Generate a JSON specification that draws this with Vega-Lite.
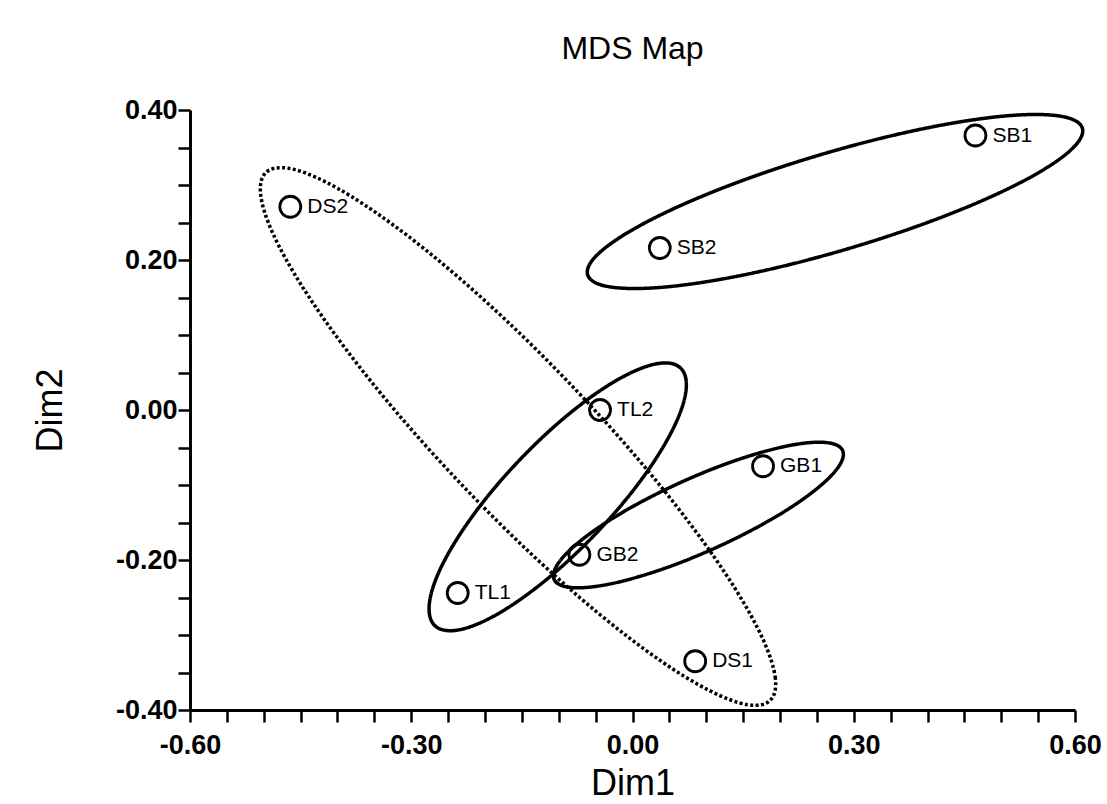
{
  "$schema": "https://vega.github.io/schema/vega-lite/v6.json",
  "width": 885,
  "height": 600,
  "autosize": {"type": "none"},
  "padding": {"left": 190, "top": 110, "right": 32, "bottom": 94},
  "background": "white",
  "title": {
    "text": "MDS Map",
    "font": "Liberation Sans",
    "fontSize": 32,
    "fontWeight": "normal",
    "color": "black",
    "anchor": "middle",
    "offset": 30
  },
  "config": {
    "view": {"stroke": null},
    "axis": {
      "grid": false,
      "domainColor": "black",
      "domainWidth": 3,
      "tickColor": "black",
      "tickWidth": 2.5,
      "tickSize": 12,
      "labelFont": "Liberation Sans",
      "labelFontSize": 27,
      "labelFontWeight": "bold",
      "labelColor": "black",
      "labelOverlap": false,
      "labelFlush": false,
      "labelBound": false,
      "titleFont": "Liberation Sans",
      "titleFontSize": 36,
      "titleFontWeight": "normal",
      "titleColor": "black",
      "titleBaseline": "alphabetic"
    }
  },
  "datasets": {
    "points": [
      {"label": "SB1", "x": 0.465, "y": 0.366},
      {"label": "SB2", "x": 0.037, "y": 0.216},
      {"label": "DS2", "x": -0.464, "y": 0.271},
      {"label": "TL2", "x": -0.044, "y": 0.0},
      {"label": "GB1", "x": 0.177, "y": -0.075},
      {"label": "GB2", "x": -0.072, "y": -0.193},
      {"label": "TL1", "x": -0.237, "y": -0.244},
      {"label": "DS1", "x": 0.085, "y": -0.335}
    ],
    "outlines": [
      {"grp": "SB", "i": 0, "x": 0.6100, "y": 0.3757},
      {"grp": "SB", "i": 1, "x": 0.6034, "y": 0.3562},
      {"grp": "SB", "i": 2, "x": 0.5745, "y": 0.3313},
      {"grp": "SB", "i": 3, "x": 0.5251, "y": 0.3028},
      {"grp": "SB", "i": 4, "x": 0.4586, "y": 0.2726},
      {"grp": "SB", "i": 5, "x": 0.3796, "y": 0.2428},
      {"grp": "SB", "i": 6, "x": 0.2935, "y": 0.2154},
      {"grp": "SB", "i": 7, "x": 0.2060, "y": 0.1922},
      {"grp": "SB", "i": 8, "x": 0.1232, "y": 0.1749},
      {"grp": "SB", "i": 9, "x": 0.0507, "y": 0.1646},
      {"grp": "SB", "i": 10, "x": -0.0065, "y": 0.1621},
      {"grp": "SB", "i": 11, "x": -0.0445, "y": 0.1674},
      {"grp": "SB", "i": 12, "x": -0.0608, "y": 0.1803},
      {"grp": "SB", "i": 13, "x": -0.0543, "y": 0.1999},
      {"grp": "SB", "i": 14, "x": -0.0253, "y": 0.2247},
      {"grp": "SB", "i": 15, "x": 0.0241, "y": 0.2532},
      {"grp": "SB", "i": 16, "x": 0.0905, "y": 0.2834},
      {"grp": "SB", "i": 17, "x": 0.1695, "y": 0.3132},
      {"grp": "SB", "i": 18, "x": 0.2557, "y": 0.3406},
      {"grp": "SB", "i": 19, "x": 0.3432, "y": 0.3638},
      {"grp": "SB", "i": 20, "x": 0.4260, "y": 0.3811},
      {"grp": "SB", "i": 21, "x": 0.4984, "y": 0.3914},
      {"grp": "SB", "i": 22, "x": 0.5556, "y": 0.3939},
      {"grp": "SB", "i": 23, "x": 0.5937, "y": 0.3886},

      {"grp": "GB", "i": 0, "x": 0.2849, "y": -0.0540},
      {"grp": "GB", "i": 1, "x": 0.2835, "y": -0.0686},
      {"grp": "GB", "i": 2, "x": 0.2690, "y": -0.0880},
      {"grp": "GB", "i": 3, "x": 0.2421, "y": -0.1110},
      {"grp": "GB", "i": 4, "x": 0.2049, "y": -0.1360},
      {"grp": "GB", "i": 5, "x": 0.1598, "y": -0.1612},
      {"grp": "GB", "i": 6, "x": 0.1099, "y": -0.1850},
      {"grp": "GB", "i": 7, "x": 0.0585, "y": -0.2058},
      {"grp": "GB", "i": 8, "x": 0.0093, "y": -0.2220},
      {"grp": "GB", "i": 9, "x": -0.0344, "y": -0.2327},
      {"grp": "GB", "i": 10, "x": -0.0697, "y": -0.2370},
      {"grp": "GB", "i": 11, "x": -0.0942, "y": -0.2347},
      {"grp": "GB", "i": 12, "x": -0.1062, "y": -0.2260},
      {"grp": "GB", "i": 13, "x": -0.1048, "y": -0.2114},
      {"grp": "GB", "i": 14, "x": -0.0902, "y": -0.1920},
      {"grp": "GB", "i": 15, "x": -0.0634, "y": -0.1690},
      {"grp": "GB", "i": 16, "x": -0.0262, "y": -0.1440},
      {"grp": "GB", "i": 17, "x": 0.0190, "y": -0.1188},
      {"grp": "GB", "i": 18, "x": 0.0689, "y": -0.0950},
      {"grp": "GB", "i": 19, "x": 0.1202, "y": -0.0742},
      {"grp": "GB", "i": 20, "x": 0.1694, "y": -0.0580},
      {"grp": "GB", "i": 21, "x": 0.2131, "y": -0.0473},
      {"grp": "GB", "i": 22, "x": 0.2485, "y": -0.0430},
      {"grp": "GB", "i": 23, "x": 0.2729, "y": -0.0453},

      {"grp": "TL", "i": 0, "x": 0.0651, "y": 0.0560},
      {"grp": "TL", "i": 1, "x": 0.0729, "y": 0.0376},
      {"grp": "TL", "i": 2, "x": 0.0688, "y": 0.0086},
      {"grp": "TL", "i": 3, "x": 0.0531, "y": -0.0288},
      {"grp": "TL", "i": 4, "x": 0.0269, "y": -0.0721},
      {"grp": "TL", "i": 5, "x": -0.0081, "y": -0.1184},
      {"grp": "TL", "i": 6, "x": -0.0494, "y": -0.1645},
      {"grp": "TL", "i": 7, "x": -0.0943, "y": -0.2073},
      {"grp": "TL", "i": 8, "x": -0.1397, "y": -0.2438},
      {"grp": "TL", "i": 9, "x": -0.1824, "y": -0.2717},
      {"grp": "TL", "i": 10, "x": -0.2196, "y": -0.2889},
      {"grp": "TL", "i": 11, "x": -0.2488, "y": -0.2943},
      {"grp": "TL", "i": 12, "x": -0.2680, "y": -0.2875},
      {"grp": "TL", "i": 13, "x": -0.2757, "y": -0.2690},
      {"grp": "TL", "i": 14, "x": -0.2717, "y": -0.2401},
      {"grp": "TL", "i": 15, "x": -0.2560, "y": -0.2027},
      {"grp": "TL", "i": 16, "x": -0.2297, "y": -0.1594},
      {"grp": "TL", "i": 17, "x": -0.1948, "y": -0.1131},
      {"grp": "TL", "i": 18, "x": -0.1534, "y": -0.0670},
      {"grp": "TL", "i": 19, "x": -0.1086, "y": -0.0242},
      {"grp": "TL", "i": 20, "x": -0.0632, "y": 0.0124},
      {"grp": "TL", "i": 21, "x": -0.0204, "y": 0.0402},
      {"grp": "TL", "i": 22, "x": 0.0168, "y": 0.0574},
      {"grp": "TL", "i": 23, "x": 0.0460, "y": 0.0628},

      {"grp": "DS", "i": 0, "x": 0.1866, "y": -0.3873},
      {"grp": "DS", "i": 1, "x": 0.1937, "y": -0.3577},
      {"grp": "DS", "i": 2, "x": 0.1771, "y": -0.3061},
      {"grp": "DS", "i": 3, "x": 0.1378, "y": -0.2360},
      {"grp": "DS", "i": 4, "x": 0.0785, "y": -0.1523},
      {"grp": "DS", "i": 5, "x": 0.0033, "y": -0.0606},
      {"grp": "DS", "i": 6, "x": -0.0827, "y": 0.0328},
      {"grp": "DS", "i": 7, "x": -0.1736, "y": 0.1216},
      {"grp": "DS", "i": 8, "x": -0.2633, "y": 0.1997},
      {"grp": "DS", "i": 9, "x": -0.3457, "y": 0.2617},
      {"grp": "DS", "i": 10, "x": -0.4150, "y": 0.3036},
      {"grp": "DS", "i": 11, "x": -0.4666, "y": 0.3223},
      {"grp": "DS", "i": 12, "x": -0.4971, "y": 0.3166},
      {"grp": "DS", "i": 13, "x": -0.5042, "y": 0.2870},
      {"grp": "DS", "i": 14, "x": -0.4876, "y": 0.2354},
      {"grp": "DS", "i": 15, "x": -0.4483, "y": 0.1654},
      {"grp": "DS", "i": 16, "x": -0.3890, "y": 0.0816},
      {"grp": "DS", "i": 17, "x": -0.3138, "y": -0.0101},
      {"grp": "DS", "i": 18, "x": -0.2278, "y": -0.1035},
      {"grp": "DS", "i": 19, "x": -0.1369, "y": -0.1923},
      {"grp": "DS", "i": 20, "x": -0.0472, "y": -0.2703},
      {"grp": "DS", "i": 21, "x": 0.0352, "y": -0.3324},
      {"grp": "DS", "i": 22, "x": 0.1045, "y": -0.3742},
      {"grp": "DS", "i": 23, "x": 0.1561, "y": -0.3929}
    ]
  },
  "encoding": {
    "x": {
      "field": "x",
      "type": "quantitative",
      "scale": {"domain": [-0.6, 0.6], "nice": false, "zero": false},
      "axis": {
        "title": "Dim1",
        "titleX": 442.5,
        "titleY": 84,
        "labelPadding": 10,
        "values": [-0.6, -0.55, -0.5, -0.45, -0.4, -0.35, -0.3, -0.25, -0.2, -0.15, -0.1, -0.05, 0, 0.05, 0.1, 0.15, 0.2, 0.25, 0.3, 0.35, 0.4, 0.45, 0.5, 0.55, 0.6],
        "labelExpr": "abs(datum.value * 10 / 3 - round(datum.value * 10 / 3)) < 0.01 ? replace(format(datum.value, '.2f'), '\u2212', '-') : ''"
      }
    },
    "y": {
      "field": "y",
      "type": "quantitative",
      "scale": {"domain": [-0.4, 0.4], "nice": false, "zero": false},
      "axis": {
        "title": "Dim2",
        "titleX": -129,
        "titleY": 300,
        "labelPadding": 1,
        "values": [-0.4, -0.35, -0.3, -0.25, -0.2, -0.15, -0.1, -0.05, 0, 0.05, 0.1, 0.15, 0.2, 0.25, 0.3, 0.35, 0.4],
        "labelExpr": "abs(datum.value * 5 - round(datum.value * 5)) < 0.01 ? replace(format(datum.value, '.2f'), '\u2212', '-') : ''"
      }
    }
  },
  "layer": [
    {
      "data": {"name": "outlines"},
      "mark": {"type": "line", "interpolate": "cardinal-closed", "color": "black", "clip": false},
      "encoding": {
        "order": {"field": "i", "type": "quantitative"},
        "detail": {"field": "grp"},
        "strokeDash": {
          "field": "grp",
          "type": "nominal",
          "scale": {"domain": ["SB", "GB", "TL", "DS"], "range": [[1, 0], [1, 0], [1, 0], [3, 2.4]]},
          "legend": null
        },
        "strokeWidth": {
          "field": "grp",
          "type": "nominal",
          "scale": {"domain": ["SB", "GB", "TL", "DS"], "range": [3.5, 3.5, 3.5, 3.2]},
          "legend": null
        }
      }
    },
    {
      "data": {"name": "points"},
      "mark": {"type": "point", "shape": "circle", "filled": false, "size": 440, "strokeWidth": 2.8, "color": "black", "opacity": 1},
      "encoding": {}
    },
    {
      "data": {"name": "points"},
      "mark": {"type": "text", "align": "left", "baseline": "middle", "dx": 17, "font": "Liberation Sans", "fontSize": 21, "color": "black"},
      "encoding": {"text": {"field": "label"}}
    }
  ]
}
